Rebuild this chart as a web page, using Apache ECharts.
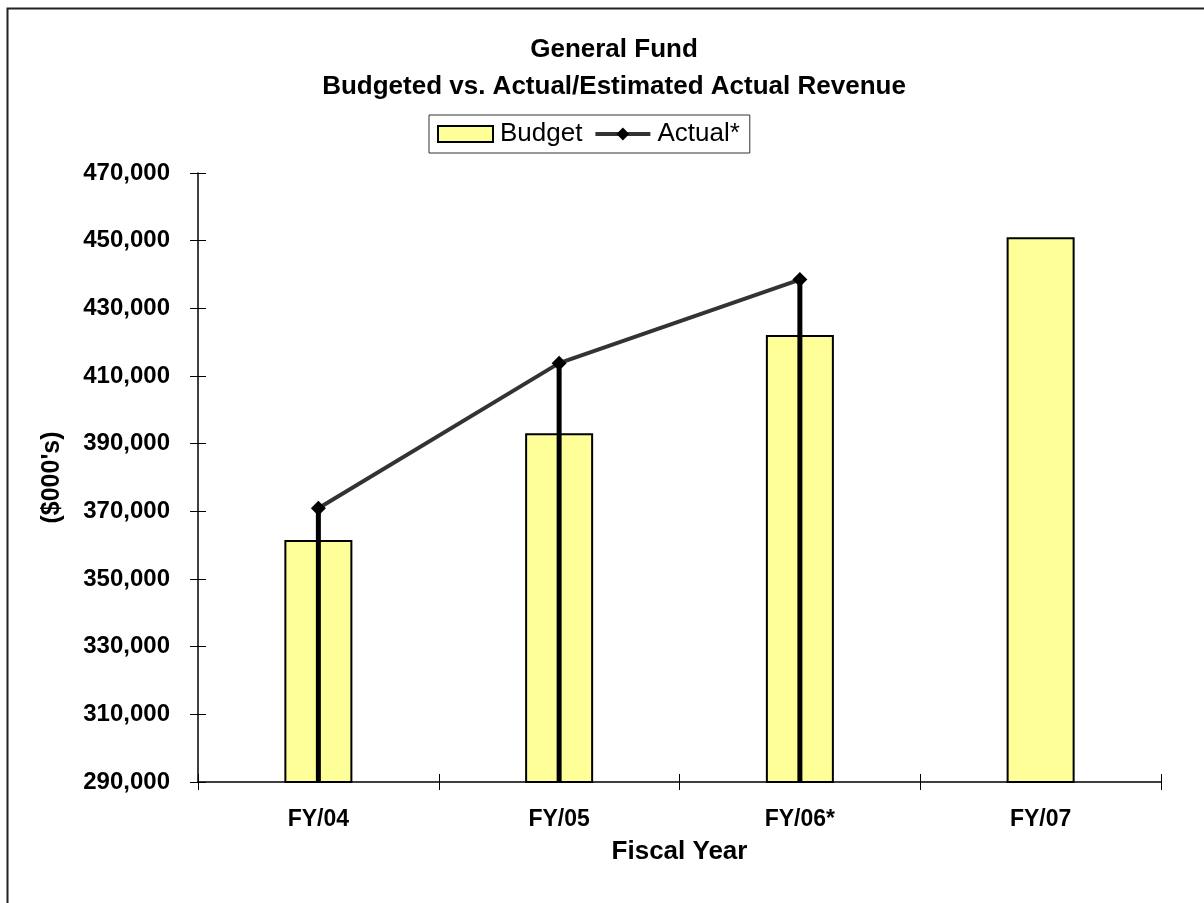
<!DOCTYPE html>
<html>
<head>
<meta charset="utf-8">
<script src="https://cdn.jsdelivr.net/npm/echarts@6/dist/echarts.min.js"></script>
<style>html,body{margin:0;padding:0;background:#fff}#c{width:1204px;height:903px}</style>
</head>
<body>
<div id="c"></div>
<script>
const categories = ['FY/04', 'FY/05', 'FY/06*', 'FY/07'];
const budget = [361500, 393100, 422100, 451000];
const actual = [370900, 413800, 438500, null];
const yMin = 290000, yMax = 470000, yStep = 20000;

const FONT = '"Liberation Sans", Arial, sans-serif';
const chart = echarts.init(document.getElementById('c'));
const gridW = 1204 - 198 - 43, gridH = 903 - 173 - 121;

chart.setOption({
  animation: false,
  backgroundColor: '#fff',
  graphic: [{
    type: 'rect', shape: { x: 7.5, y: 8.5, width: 1300, height: 1000 },
    style: { fill: 'none', stroke: '#222', lineWidth: 2 }, silent: true, z: -10
  }],
  title: {
    text: 'General Fund\nBudgeted vs. Actual/Estimated Actual Revenue',
    left: 609, top: 26, textAlign: 'center',
    textStyle: { fontFamily: FONT, fontWeight: 'bold', fontSize: 26, lineHeight: 37, color: '#000' }
  },
  legend: {
    left: 429, top: 115,
    padding: [6, 10, 6, 8],
    borderColor: '#333', borderWidth: 1,
    itemWidth: 55, itemHeight: 16, itemGap: 11,
    textStyle: { fontFamily: FONT, fontSize: 26, color: '#000', padding: [0, 0, 0, 2] },
    data: [
      { name: 'Budget', icon: 'rect', itemStyle: { color: '#FFFF99', borderColor: '#000', borderWidth: 2 } },
      { name: 'Actual*', lineStyle: { color: '#333', width: 4 }, itemStyle: { color: '#000' } }
    ]
  },
  grid: { left: 198, right: 43, top: 173, bottom: 121 },
  xAxis: [{
    type: 'category', data: categories, position: 'bottom',
    axisLine: { lineStyle: { color: '#000', width: 1.5 } },
    axisTick: { show: true, length: 8, lineStyle: { color: '#000', width: 1 } },
    axisLabel: { fontFamily: FONT, fontWeight: 'bold', fontSize: 23, color: '#000', margin: 26 },
    name: 'Fiscal Year', nameLocation: 'middle', nameGap: 57,
    nameTextStyle: { fontFamily: FONT, fontWeight: 'bold', fontSize: 26, color: '#000' }
  }, {
    type: 'category', data: categories, position: 'top', offset: -gridH,
    axisLine: { show: false },
    axisTick: { show: true, length: 8, lineStyle: { color: '#000', width: 1 } },
    axisLabel: { show: false }
  }],
  yAxis: [{
    type: 'value', min: yMin, max: yMax, interval: yStep, position: 'left',
    splitLine: { show: false },
    axisLine: { show: true, lineStyle: { color: '#000', width: 1.5 } },
    axisTick: { show: true, length: 8, lineStyle: { color: '#000', width: 1 } },
    axisLabel: {
      fontFamily: FONT, fontWeight: 'bold', fontSize: 24, color: '#000', margin: 28,
      formatter: v => v.toLocaleString('en-US')
    },
    name: "($000's)", nameLocation: 'middle', nameGap: 133,
    nameTextStyle: { fontFamily: FONT, fontWeight: 'bold', fontSize: 25, color: '#000' }
  }, {
    type: 'value', min: yMin, max: yMax, interval: yStep, position: 'right', offset: -gridW,
    splitLine: { show: false },
    axisLine: { show: false },
    axisTick: { show: true, length: 8, lineStyle: { color: '#000', width: 1 } },
    axisLabel: { show: false }
  }],
  series: [{
    name: 'Budget', type: 'bar', data: budget, barWidth: 68,
    itemStyle: { color: '#FFFF99', borderColor: '#000', borderWidth: 2 },
    z: 2
  }, {
    name: 'drop', type: 'custom', z: 3,
    data: actual.map((v, i) => v == null ? null : [i, v]).filter(d => d),
    renderItem: (params, api) => {
      const top = api.coord([api.value(0), api.value(1)]);
      const bot = api.coord([api.value(0), yMin]);
      return { type: 'line', shape: { x1: top[0], y1: top[1], x2: bot[0], y2: bot[1] },
        style: { stroke: '#000', lineWidth: 5 } };
    },
    silent: true
  }, {
    name: 'Actual*', type: 'line', data: actual, z: 4,
    symbol: 'diamond', symbolSize: 15, showAllSymbol: true,
    itemStyle: { color: '#000' },
    lineStyle: { color: '#333', width: 4 }
  }]
});
</script>
</body>
</html>
